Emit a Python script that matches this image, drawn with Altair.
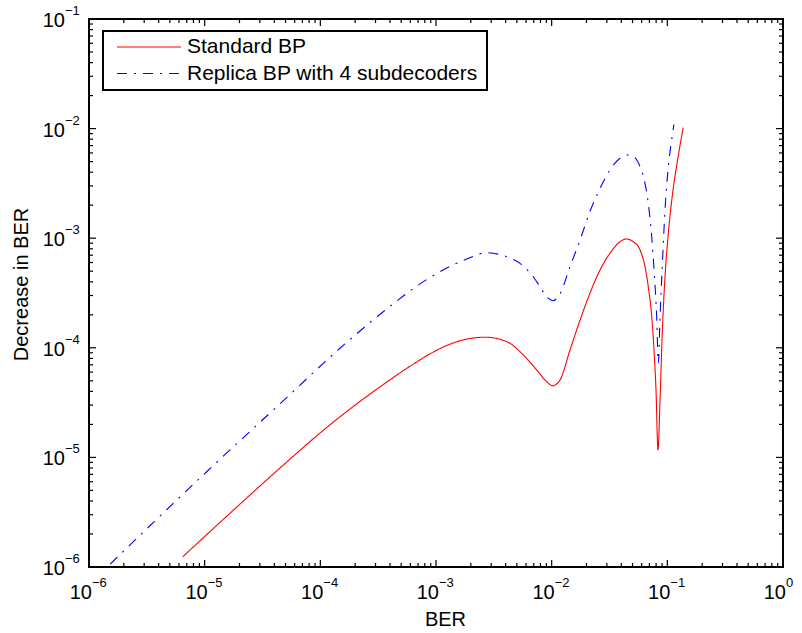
import altair as alt
import pandas as pd

# ---- data ----
red_x = [6.46e-6, 6.67e-5, 8.69e-5, 1.69e-4, 3.28e-4, 6.37e-4, 8.87e-4, 1.24e-3, 1.72e-3,
         2.65e-3, 4.08e-3, 5.69e-3, 7.43e-3, 9.06e-3, 1.02e-2, 1.18e-2, 1.44e-2, 1.76e-2,
         2.14e-2, 2.62e-2, 3.19e-2, 3.90e-2, 4.40e-2, 5.08e-2, 5.81e-2, 6.41e-2, 6.84e-2,
         7.33e-2, 7.67e-2, 7.98e-2, 8.30e-2, 8.65e-2, 9.04e-2, 9.55e-2, 0.102, 0.112, 0.124, 0.137]
red_y = [1.24e-6, 1.16e-5, 1.48e-5, 2.62e-5, 4.40e-5, 7.10e-5, 8.80e-5, 1.05e-4, 1.18e-4,
         1.25e-4, 1.14e-4, 8.6e-5, 6.27e-5, 4.91e-5, 4.51e-5, 5.08e-5, 9.55e-5, 1.79e-4,
         3.14e-4, 5.13e-4, 7.28e-4, 9.29e-4, 9.84e-4, 9.29e-4, 7.80e-4, 5.50e-4, 3.61e-4,
         1.92e-4, 9.55e-5, 4.12e-5, 1.17e-5, 3.34e-5, 1.36e-4, 4.45e-4, 1.11e-3, 2.75e-3, 5.54e-3, 1.02e-2]

blue_x = [1.52e-6, 1.04e-5, 6.46e-5, 1.06e-4, 1.69e-4, 2.69e-4, 4.27e-4, 6.81e-4, 1.16e-3,
          1.84e-3, 2.74e-3, 4.08e-3, 5.32e-3, 6.93e-3, 7.92e-3, 9.06e-3, 1.02e-2, 1.18e-2,
          1.44e-2, 1.76e-2, 2.14e-2, 2.62e-2, 3.19e-2, 3.90e-2, 4.48e-2, 5.08e-2, 5.81e-2,
          6.41e-2, 6.84e-2, 7.33e-2, 7.71e-2, 8.09e-2, 8.36e-2, 8.65e-2, 9.04e-2, 9.55e-2,
          0.102, 0.109, 0.114]
blue_y = [1.06e-6, 7.40e-6, 4.42e-5, 7.22e-5, 1.12e-4, 1.70e-4, 2.52e-4, 3.65e-4, 5.15e-4,
          6.45e-4, 7.38e-4, 6.78e-4, 5.90e-4, 4.45e-4, 3.61e-4, 2.92e-4, 2.69e-4, 3.10e-4,
          5.50e-4, 9.63e-4, 1.75e-3, 2.85e-3, 4.19e-3, 5.36e-3, 5.74e-3, 5.56e-3, 4.49e-3,
          3.17e-3, 2.08e-3, 1.03e-3, 4.79e-4, 1.92e-4, 7.22e-5, 1.92e-4, 5.50e-4, 1.81e-3,
          4.49e-3, 7.87e-3, 1.09e-2]

series_names = ["Standard BP", "Replica BP with 4 subdecoders"]
series_colors = ["#ff0000", "#0000ff"]
series_dashes = [[1, 0], [10, 7, 2, 7]]

x_major = [1e-6, 1e-5, 1e-4, 1e-3, 1e-2, 1e-1, 1.0]
x_exp = ["\u22126", "\u22125", "\u22124", "\u22123", "\u22122", "\u22121", "0"]
y_major = [1e-6, 1e-5, 1e-4, 1e-3, 1e-2, 1e-1]
y_exp = ["\u22126", "\u22125", "\u22124", "\u22123", "\u22122", "\u22121"]
x_minor = [m * d for d in [1e-6, 1e-5, 1e-4, 1e-3, 1e-2, 1e-1] for m in range(2, 10)]
y_minor = [m * d for d in [1e-6, 1e-5, 1e-4, 1e-3, 1e-2] for m in range(2, 10)]

W, H = 694, 548
FONT = "Liberation Sans"

lines = pd.DataFrame({
    "ber": red_x + blue_x,
    "dec": red_y + blue_y,
    "series": [series_names[0]] * len(red_x) + [series_names[1]] * len(blue_x),
    "idx": list(range(len(red_x))) + list(range(len(blue_x))),
})

xs = alt.Scale(type="log", domain=[1e-6, 1.0], nice=False)
ys = alt.Scale(type="log", domain=[1e-6, 0.1], nice=False)

x_axis = alt.Axis(title="BER", labels=False, ticks=False, domain=False, grid=False,
                  titleFont=FONT, titleFontSize=20, titleFontWeight="normal", titleColor="black",
                  titleX=356, titleY=58, titleBaseline="alphabetic", titleAlign="center")
y_axis = alt.Axis(title="Decrease in BER", labels=False, ticks=False, domain=False, grid=False,
                  titleFont=FONT, titleFontSize=20, titleFontWeight="normal", titleColor="black",
                  titleX=-62, titleY=265, titleBaseline="alphabetic", titleAngle=270,
                  titleAlign="center")

curve = alt.Chart(lines).mark_line(strokeWidth=1.1, clip=True, interpolate="monotone").encode(
    x=alt.X("ber:Q", scale=xs, axis=x_axis),
    y=alt.Y("dec:Q", scale=ys, axis=y_axis),
    color=alt.Color("series:N", scale=alt.Scale(domain=series_names, range=series_colors),
                    legend=None),
    strokeDash=alt.StrokeDash("series:N", scale=alt.Scale(domain=series_names,
                                                          range=series_dashes),
                              legend=None),
    order="idx:Q",
)

tick_len_major, tick_len_minor = 7, 4

def xticks(vals, length):
    df = pd.DataFrame({"v": vals})
    bottom = alt.Chart(df).mark_rule(color="black", strokeWidth=1.2).encode(
        x=alt.X("v:Q", scale=xs, axis=x_axis), y=alt.value(H), y2=alt.value(H - length))
    top = alt.Chart(df).mark_rule(color="black", strokeWidth=1.2).encode(
        x=alt.X("v:Q", scale=xs, axis=x_axis), y=alt.value(0), y2=alt.value(length))
    return [bottom, top]

def yticks(vals, length):
    df = pd.DataFrame({"v": vals})
    left = alt.Chart(df).mark_rule(color="black", strokeWidth=1.2).encode(
        y=alt.Y("v:Q", scale=ys, axis=y_axis), x=alt.value(0), x2=alt.value(length))
    right = alt.Chart(df).mark_rule(color="black", strokeWidth=1.2).encode(
        y=alt.Y("v:Q", scale=ys, axis=y_axis), x=alt.value(W), x2=alt.value(W - length))
    return [left, right]

xlab_df = pd.DataFrame({"v": x_major, "e": x_exp})
ylab_df = pd.DataFrame({"v": y_major, "e": y_exp})

xlab_base = alt.Chart(xlab_df).mark_text(align="right", baseline="alphabetic", dx=3,
                                         font=FONT, fontSize=20, color="black").encode(
    x=alt.X("v:Q", scale=xs, axis=x_axis), y=alt.value(H + 32), text=alt.value("10"))
xlab_exp = alt.Chart(xlab_df).mark_text(align="left", baseline="alphabetic", dx=3,
                                        font=FONT, fontSize=13, color="black").encode(
    x=alt.X("v:Q", scale=xs, axis=x_axis), y=alt.value(H + 20), text="e:N")
ylab_base = alt.Chart(ylab_df).mark_text(align="right", baseline="alphabetic", dy=8,
                                         font=FONT, fontSize=20, color="black").encode(
    y=alt.Y("v:Q", scale=ys, axis=y_axis), x=alt.value(-24), text=alt.value("10"))
ylab_exp = alt.Chart(ylab_df).mark_text(align="left", baseline="alphabetic", dy=-4,
                                        font=FONT, fontSize=13, color="black").encode(
    y=alt.Y("v:Q", scale=ys, axis=y_axis), x=alt.value(-24), text="e:N")

# ---- axes box ----
frame = alt.Chart(pd.DataFrame({"k": [0]})).mark_rect(
    fill=None, fillOpacity=0, stroke="black", strokeWidth=2).encode(
    x=alt.value(0), x2=alt.value(W), y=alt.value(0), y2=alt.value(H))

# ---- legend box (drawn in the plot's top-left corner) ----
leg_df = pd.DataFrame({"name": series_names})
leg_box = alt.Chart(leg_df.head(1)).mark_rect(fill="white", stroke="black", strokeWidth=2).encode(
    x=alt.value(14), x2=alt.value(398), y=alt.value(12), y2=alt.value(71))
leg_layers = [leg_box]
row_y = [28, 54.5]
for i, name in enumerate(series_names):
    one = pd.DataFrame({"name": [name]})
    leg_layers.append(alt.Chart(one).mark_rule(color=series_colors[i], strokeWidth=1.2,
                                               strokeDash=series_dashes[i]).encode(
        x=alt.value(28), x2=alt.value(92), y=alt.value(row_y[i])))
    leg_layers.append(alt.Chart(one).mark_text(align="left", baseline="middle", font=FONT,
                                               fontSize=21, color="black").encode(
        x=alt.value(98), y=alt.value(row_y[i]), text="name:N"))

layers = [curve]
layers += xticks(x_major, tick_len_major) + xticks(x_minor, tick_len_minor)
layers += yticks(y_major, tick_len_major) + yticks(y_minor, tick_len_minor)
layers += [xlab_base, xlab_exp, ylab_base, ylab_exp, frame]
layers += leg_layers

chart = alt.layer(*layers).properties(
    width=W, height=H,
    padding={"left": 89, "top": 19, "right": 19, "bottom": 66},
    autosize=alt.AutoSizeParams(type="none"),
).configure_view(strokeWidth=0).configure(background="white")

chart.save("out.html", embed_options={"renderer": "svg", "actions": False})
